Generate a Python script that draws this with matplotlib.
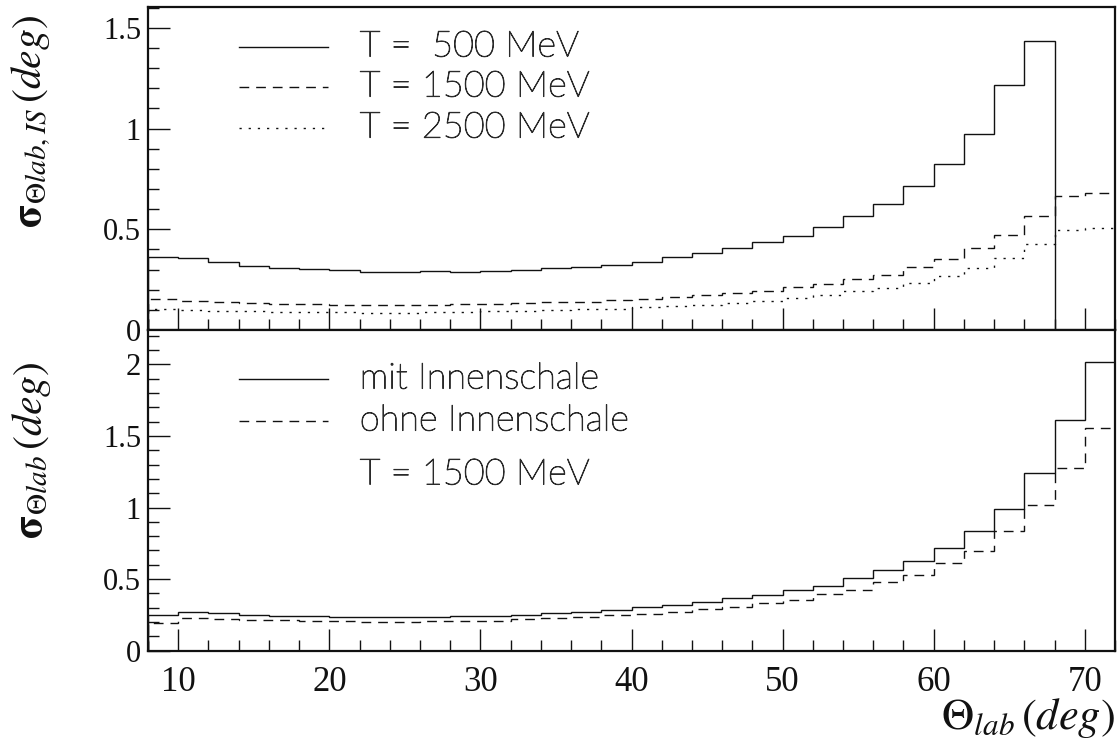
import matplotlib
matplotlib.use("Agg")
import matplotlib.pyplot as plt
import matplotlib.patheffects as pe
from matplotlib.ticker import MultipleLocator, FuncFormatter
from matplotlib.lines import Line2D

# ---- data ----
bin_edges = [8, 10, 12, 14, 16, 18, 20, 22, 24, 26, 28, 30, 32, 34, 36, 38, 40,
             42, 44, 46, 48, 50, 52, 54, 56, 58, 60, 62, 64, 66, 68, 70, 72]

t500 = [0.364, 0.358, 0.340, 0.320, 0.310, 0.301, 0.296, 0.287, 0.288, 0.291,
        0.288, 0.293, 0.298, 0.310, 0.315, 0.325, 0.339, 0.361, 0.381, 0.406,
        0.436, 0.465, 0.512, 0.565, 0.624, 0.714, 0.823, 0.972, 1.217, 1.437,
        0.0, 0.0]
t1500 = [0.154, 0.146, 0.140, 0.135, 0.131, 0.128, 0.126, 0.124, 0.124, 0.125,
         0.127, 0.129, 0.133, 0.137, 0.141, 0.147, 0.156, 0.162, 0.172, 0.182,
         0.194, 0.215, 0.230, 0.255, 0.275, 0.311, 0.354, 0.406, 0.470, 0.565,
         0.667, 0.682]
t2500 = [0.106, 0.098, 0.095, 0.092, 0.090, 0.088, 0.087, 0.086, 0.086, 0.087,
         0.089, 0.092, 0.095, 0.098, 0.102, 0.106, 0.113, 0.121, 0.126, 0.136,
         0.144, 0.161, 0.174, 0.194, 0.211, 0.235, 0.266, 0.308, 0.356, 0.425,
         0.498, 0.506]
mit_is = [0.249, 0.272, 0.261, 0.249, 0.245, 0.240, 0.236, 0.234, 0.234, 0.236,
          0.239, 0.241, 0.250, 0.260, 0.272, 0.284, 0.305, 0.317, 0.338, 0.366,
          0.387, 0.426, 0.454, 0.505, 0.564, 0.626, 0.719, 0.838, 0.987, 1.239,
          1.613, 2.018]
ohne_is = [0.191, 0.230, 0.224, 0.216, 0.211, 0.208, 0.205, 0.203, 0.203, 0.204,
           0.206, 0.210, 0.218, 0.228, 0.236, 0.250, 0.259, 0.270, 0.289, 0.307,
           0.335, 0.354, 0.394, 0.426, 0.478, 0.529, 0.610, 0.696, 0.836, 1.020,
           1.278, 1.555]

top_labels = ["T =  500 MeV", "T = 1500 MeV", "T = 2500 MeV"]
bot_labels = ["mit Innenschale", "ohne Innenschale"]
bot_note = "T = 1500 MeV"
x_ticks = [10, 20, 30, 40, 50, 60, 70]

# ---- style ----
plt.rcParams['mathtext.fontset'] = 'stix'
plt.rcParams['font.family'] = ['Liberation Serif', 'DejaVu Serif']

W, H = 1117, 750
fig = plt.figure(figsize=(W / 100, H / 100), dpi=100)
L, R = 148 / W, 1115 / W
ax1 = fig.add_axes([L, 1 - 330 / H, R - L, (330 - 7) / H])
ax2 = fig.add_axes([L, 1 - 650.7 / H, R - L, (650.7 - 330) / H])

lc = '#111111'
lw = 1.0
dashed = (0, (7, 5))
dotted = (0, (1.6, 5))

ax1.stairs(t500, bin_edges, color=lc, lw=lw, linestyle='-')
ax1.stairs(t1500, bin_edges, color=lc, lw=lw, linestyle=dashed)
ax1.stairs(t2500, bin_edges, color=lc, lw=lw, linestyle=dotted)

ax2.stairs(mit_is, bin_edges, color=lc, lw=lw, linestyle='-')
ax2.stairs(ohne_is, bin_edges, color=lc, lw=lw, linestyle=dashed)

ax1.set_ylim(0, 1.604)
ax2.set_ylim(0, 2.24)

fmt = FuncFormatter(lambda v, p: '%g' % v)
for ax in (ax1, ax2):
    ax.set_xlim(8, 72)
    ax.xaxis.set_major_locator(MultipleLocator(10))
    ax.xaxis.set_minor_locator(MultipleLocator(2))
    ax.yaxis.set_major_locator(MultipleLocator(0.5))
    ax.yaxis.set_minor_locator(MultipleLocator(0.1))
    ax.yaxis.set_major_formatter(fmt)
    ax.tick_params(which='both', direction='in', top=False, right=False,
                   color='#111111', width=1.0)
    ax.tick_params(which='major', length=16)
    ax.tick_params(which='minor', length=8)
    ax.tick_params(axis='y', labelsize=22, pad=5, labelcolor='#111111')
    for s in ax.spines.values():
        s.set_linewidth(1.6)
        s.set_color('#111111')

ax1.set_xticks(x_ticks)
ax1.tick_params(axis='x', labelbottom=False)
ax2.set_xticks(x_ticks)
ax2.tick_params(axis='x', labelsize=25, pad=11, labelcolor='#111111')

# legends (drawn manually to match the layout)
legfont = dict(family=['Lato', 'DejaVu Sans'], fontweight='light', fontsize=26,
               color='#2a2a2a', va='center', ha='left',
               path_effects=[pe.withStroke(linewidth=0.7, foreground='#2a2a2a')])
styles1 = ['-', dashed, dotted]
ys1 = [0.876, 0.752, 0.625]
for st, yy, lab in zip(styles1, ys1, top_labels):
    ax1.add_line(Line2D([0.094, 0.186], [yy, yy], transform=ax1.transAxes,
                        color=lc, lw=lw, linestyle=st))
    ax1.text(0.219, yy, lab, transform=ax1.transAxes, **legfont)

styles2 = ['-', dashed]
ys2 = [0.847, 0.716]
for st, yy, lab in zip(styles2, ys2, bot_labels):
    ax2.add_line(Line2D([0.094, 0.186], [yy, yy], transform=ax2.transAxes,
                        color=lc, lw=lw, linestyle=st))
    ax2.text(0.219, yy, lab, transform=ax2.transAxes, **legfont)
ax2.text(0.219, 0.548, bot_note, transform=ax2.transAxes, **legfont)

# axis titles
ax1.set_ylabel(r'$\mathbf{\sigma}_{\Theta lab,IS}\,(deg)$', fontsize=30, color='#111111')
ax1.yaxis.set_label_coords(-0.098, 0.646)
ax2.set_ylabel(r'$\mathbf{\sigma}_{\Theta lab}\,(deg)$', fontsize=30, color='#111111')
ax2.yaxis.set_label_coords(-0.098, 0.626)
fig.text(1115 / W, 1 - 729 / H, r'$\Theta_{lab}\,(deg)$', fontsize=32,
         ha='right', va='baseline', color='#111111')

fig.savefig('out.png', dpi=100)
